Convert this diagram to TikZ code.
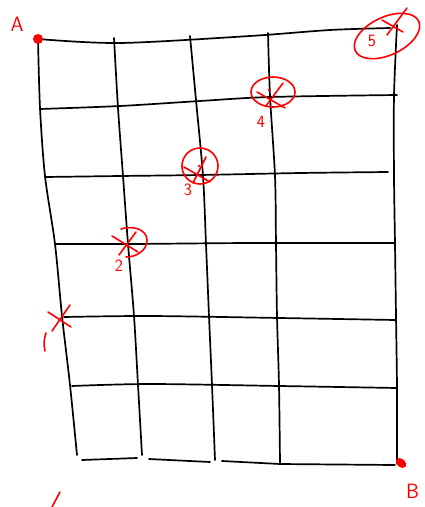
\documentclass[tikz,border=0pt]{standalone}
\usepackage{tikz}
\usetikzlibrary{positioning}

\begin{document}
\begin{tikzpicture}[
      x=1pt,y=-1pt,
      gridline/.style={line width=1.7pt,line cap=round,line join=round},
      redpen/.style={red,line width=1.6pt,line cap=round,line join=round},
      spot/.style={red,fill=red},
      lbl/.style={red,font=\LARGE\sffamily,inner sep=0pt},
      corner/.style={red,font=\huge\sffamily,inner sep=0pt}
    ]
      \useasboundingbox (0,0) rectangle (424,507);

      % vertical lines
      \draw[gridline] plot[smooth] coordinates {(38,39) (40,108) (45,176) (55,244) (62,316) (70,385) (77,455)};
      \draw[gridline] plot[smooth] coordinates {(114,38) (118,108) (123,176) (128,244) (134,316) (138,385) (142,455)};
      \draw[gridline] plot[smooth] coordinates {(190,36) (196,100) (203,176) (206,244) (209,316) (212,385) (215,460)};
      \draw[gridline] plot[smooth] coordinates {(268,33) (270,96) (275,176) (276,244) (277,316) (279,385) (280,463)};
      \draw[gridline] plot[smooth] coordinates {(397,25) (394,96) (394,176) (395,244) (396,316) (397,388) (397,463)};

      % horizontal lines
      \draw[gridline] plot[smooth] coordinates {(38,39) (120,43) (250,36) (330,30) (390,28)};
      \draw[gridline] plot[smooth] coordinates {(40,109) (120,106) (200,101) (270,97) (397,95)};
      \draw[gridline] plot[smooth] coordinates {(45,177) (120,176) (200,175) (300,173) (388,172)};
      \draw[gridline] plot[smooth] coordinates {(55,244) (130,244) (250,243) (395,243)};
      \draw[gridline] plot[smooth] coordinates {(64,317) (150,316) (280,318) (395,320)};
      \draw[gridline] plot[smooth] coordinates {(72,386) (150,384) (280,386) (397,388)};
      \draw[gridline] (82,460) -- (137,458);
      \draw[gridline] (149,459) -- (210,462);
      \draw[gridline] (222,461) -- (280,464) -- (395,465);

      % end points
      \fill[spot] (38,39) circle (5);
      \node[corner] (ptA) at (17,24) {A};
      \fill[spot,rotate around={-40:(401,463)}] (401,463) ellipse (6 and 4);
      \node[corner,anchor=west] (ptB) at (406,491) {B};

      % crosses
      \draw[redpen] (48,312) -- (71,327) (70,305) -- (52,331);
      \draw[redpen] (46,333) to[bend right=15] (45,351);
      \draw[redpen] (60,492) -- (52,507);

      \draw[redpen] (112,236) -- (138,252) (136,232) -- (119,255);
      \draw[redpen] (121,229) to[out=20,in=90] (147,240) to[out=-90,in=0] (126,257);
      \node[lbl] (m2) at (119,266) {2};

      \draw[redpen] (184,167) -- (210,182) (206,157) -- (193,183);
      \draw[redpen] (200,166) ellipse (18 and 18);
      \fill[spot] (199,166) circle (1.3);
      \node[lbl] (m3) at (188,190) {3};

      \draw[redpen] (257,92) -- (285,108) (283,83) -- (266,106);
      \draw[redpen] (273,92) ellipse (22 and 15);
      \fill[spot] (269,90) circle (1.3);
      \node[lbl] (m4) at (261,122) {4};

      \draw[redpen] (382,20) -- (403,32) (407,8) -- (387,35);
      \draw[redpen,rotate around={25:(387,36)}] (387,36) ellipse (35 and 19);
      \node[lbl] (m5) at (372,41) {5};
    \end{tikzpicture}
\end{document}
